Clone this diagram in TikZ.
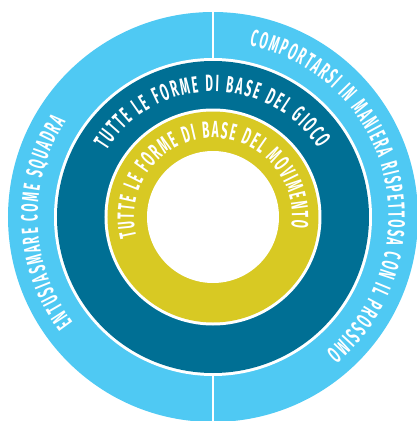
\documentclass[tikz,border=0pt]{standalone}
\usepackage{fontspec}
\usetikzlibrary{decorations.text}
\newfontfamily\ringfont[FakeStretch=0.5,Scale=2.35]{Fira Sans}
\definecolor{ringlight}{RGB}{79,201,243}
\definecolor{ringdark}{RGB}{0,111,148}
\definecolor{ringyellow}{RGB}{216,201,35}
\tikzset{
    ringtext/.style={decorate, decoration={text along path, text align=fit to path,
        text={|\ringfont\bfseries\color{white}|#1}}},
    gap/.style={draw=white, line width=1.8pt}
}

\begin{document}
\begin{tikzpicture}
        \useasboundingbox (-213pt,-204pt) rectangle (204pt,217pt);
        \fill[ringlight] (0,0) circle[radius=205pt];
        \fill[white] (0,0) circle[radius=159pt];
        \fill[ringdark] (0,0) circle[radius=156pt];
        \fill[white] (0,0) circle[radius=108.5pt];
        \fill[ringyellow] (0,0) circle[radius=105.5pt];
        \fill[white] (0,0) circle[radius=66pt];
        \coordinate (top1) at (90:206pt);
        \coordinate (top2) at (90:157pt);
        \coordinate (bot1) at (-90:157pt);
        \coordinate (bot2) at (-90:206pt);
        \draw[gap] (top1) -- (top2);
        \draw[gap] (bot1) -- (bot2);
        \path[ringtext={TUTTE LE FORME DI BASE DEL MOVIMENTO}]
                (194:79pt) arc[start angle=194, end angle=-8, radius=79pt];
        \path[ringtext={TUTTE LE FORME DI BASE DEL GIOCO}]
                (148:125.5pt) arc[start angle=148, end angle=33, radius=125.5pt];
        \path[ringtext={COMPORTARSI IN MANIERA RISPETTOSA CON IL PROSSIMO}]
                (78:175.5pt) arc[start angle=78, end angle=-50, radius=175.5pt];
        \path[ringtext={ENTUSIASMARE COME SQUADRA}]
                (217:175.5pt) arc[start angle=217, end angle=147, radius=175.5pt];
\end{tikzpicture}
\end{document}
